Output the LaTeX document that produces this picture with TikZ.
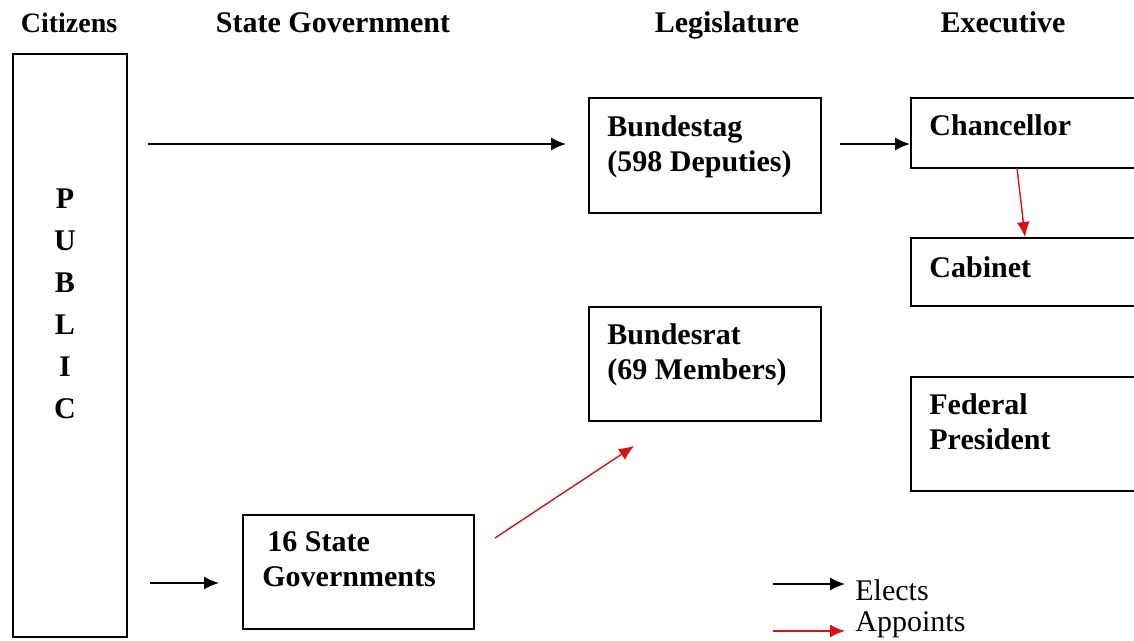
\documentclass[tikz,border=0pt]{standalone}
\usepackage{fontspec}
\setmainfont{Liberation Serif}
\usetikzlibrary{arrows.meta}
\definecolor{appred}{RGB}{214,18,18}

\begin{document}
\begin{tikzpicture}[x=0.5pt,y=-0.5pt,
    box/.style={draw,line width=0.9pt,anchor=north west,inner sep=0pt},
    lbl/.style={anchor=north west,align=left,inner sep=0pt,font=\fontsize{15}{17.5}\selectfont\bfseries},
    head/.style={inner sep=0pt,anchor=base,font=\fontsize{15}{17}\selectfont\bfseries},
    key/.style={anchor=west,inner sep=0pt,font=\fontsize{15}{17}\selectfont},
    elects/.style={-{Latex[length=7.5pt,width=6.5pt]},line width=0.7pt},
    appoints/.style={elects,draw=appred,fill=appred}]
  \clip (0,0) rectangle (1134,641);
  % column heads
  \node[head,font=\fontsize{14}{17}\selectfont\bfseries] (hcit) at (69,33) {Citizens};
  \node[head] (hstate) at (333,33) {State Government};
  \node[head] (hleg) at (727,33) {Legislature};
  \node[head] (hexe) at (1003,33) {Executive};
  % boxes
  \node[box,minimum width=57pt,minimum height=291.5pt] (public) at (12,53) {};
  \node[inner sep=0pt,align=center,font=\fontsize{15}{21}\selectfont\bfseries] (publictxt) at (65,304) {P\\U\\B\\L\\I\\C};
  \node[box,minimum width=116pt,minimum height=57.5pt] (bt) at (588,97) {};
  \node[lbl] (bttxt) at (607,115) {Bundestag\\(598 Deputies)};
  \node[box,minimum width=116pt,minimum height=57pt] (br) at (588,306) {};
  \node[lbl] (brtxt) at (607,323) {Bundesrat\\(69 Members)};
  \node[box,minimum width=125pt,minimum height=35pt] (ch) at (910,97) {};
  \node[lbl] (chtxt) at (929,114) {Chancellor};
  \node[box,minimum width=125pt,minimum height=34pt] (cab) at (910,237) {};
  \node[lbl] (cabtxt) at (929,256) {Cabinet};
  \node[box,minimum width=125pt,minimum height=57pt] (fp) at (910,376) {};
  \node[lbl] (fptxt) at (929,393) {Federal\\President};
  \node[box,minimum width=115.5pt,minimum height=57pt] (sg) at (242,514) {};
  \node[lbl] (sgtxt) at (262,531) {\hspace{2.5pt}16 State\\Governments};
  % arrow ends
  \coordinate (pubup) at (148,144);
  \coordinate (btin) at (566,144);
  \coordinate (btout) at (840,144);
  \coordinate (chin) at (910,144);
  \coordinate (chout) at (1017,168);
  \coordinate (cabin) at (1025,237);
  \coordinate (pubdown) at (150,583);
  \coordinate (sgin) at (219,583);
  \coordinate (sgout) at (495,538);
  \coordinate (brin) at (634,446);
  \draw[elects] (pubup) -- (btin);
  \draw[elects] (btout) -- (chin);
  \draw[appoints] (chout) -- (cabin);
  \draw[elects] (pubdown) -- (sgin);
  \draw[appoints] (sgout) -- (brin);
  % key
  \coordinate (ka) at (773,584);
  \coordinate (kb) at (845,584);
  \coordinate (kc) at (773,631);
  \coordinate (kd) at (845,631);
  \node[key] (kel) at (855,590) {Elects};
  \node[key] (kap) at (855,625) {Appoints};
  \draw[elects] (ka) -- (kb);
  \draw[appoints] (kc) -- (kd);
\end{tikzpicture}
\end{document}
